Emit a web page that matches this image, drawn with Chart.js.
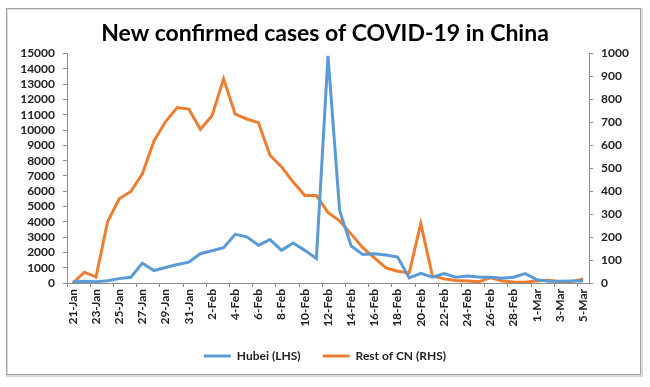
<!DOCTYPE html>
<html>
<head>
<meta charset="utf-8">
<script src="https://cdn.jsdelivr.net/npm/chart.js@4"></script>
<style>
  html, body { margin: 0; padding: 0; background: #fff; }
  #wrap { width: 650px; height: 387px; position: relative; }
</style>
</head>
<body>
<div id="wrap"><canvas id="chart" width="650" height="387"></canvas></div>
<script>
// daily dates, 21 Jan - 5 Mar 2020
const dates = [
    '21-Jan', '22-Jan', '23-Jan', '24-Jan', '25-Jan', '26-Jan', '27-Jan', '28-Jan', '29-Jan', '30-Jan', '31-Jan',
    '1-Feb', '2-Feb', '3-Feb', '4-Feb', '5-Feb', '6-Feb', '7-Feb', '8-Feb', '9-Feb', '10-Feb',
    '11-Feb', '12-Feb', '13-Feb', '14-Feb', '15-Feb', '16-Feb', '17-Feb', '18-Feb', '19-Feb', '20-Feb',
    '21-Feb', '22-Feb', '23-Feb', '24-Feb', '25-Feb', '26-Feb', '27-Feb', '28-Feb', '29-Feb',
    '1-Mar', '2-Mar', '3-Mar', '4-Mar', '5-Mar'
];

// Hubei, left axis
const hubei = [66, 110, 88, 154, 286, 374, 1300, 814, 1012, 1210, 1364,
    1914, 2112, 2310, 3180, 3014, 2464, 2838, 2134, 2618, 2134,
    1606, 14850, 4750, 2420, 1870, 1914, 1826, 1694, 330, 638,
    374, 616, 374, 462, 396, 374, 308, 374, 616,
    220, 120, 120, 130, 125];

// rest of China, right axis
const restOfCN = [0, 47, 26, 267, 367, 399, 476, 619, 704, 765, 758,
    670, 729, 890, 736, 715, 699, 557, 506, 440, 381,
    381, 308, 271, 213, 154, 110, 66, 51, 44, 259,
    31, 18, 11, 9, 5, 24, 9, 4, 3,
    10, 12, 5, 6, 18];

const tickFont = { family: 'Lato', size: 12, weight: 'bold' };
const axisGray = '#8c8c8c';
const plainNumber = v => String(v);

// grey frame round the whole chart
const framePlugin = {
    id: 'frame',
    beforeDraw(chart) {
        const ctx = chart.ctx;
        ctx.save();
        ctx.fillStyle = '#fff';
        ctx.fillRect(0, 0, chart.width, chart.height);
        ctx.strokeStyle = '#d9d9d9';
        ctx.lineWidth = 2;
        ctx.strokeRect(7, 9, 635, 367);
        ctx.strokeStyle = '#a6a6a6';
        ctx.lineWidth = 1;
        ctx.strokeRect(6.5, 8.5, 634, 366);
        ctx.restore();
    }
};

new Chart(document.getElementById('chart'), {
    type: 'line',
    data: {
        labels: dates,
        datasets: [{
            label: 'Hubei (LHS)',
            data: hubei,
            yAxisID: 'yLeft',
            borderColor: '#5b9bd5',
            backgroundColor: '#5b9bd5',
            borderWidth: 3,
            pointRadius: 0,
            tension: 0
        }, {
            label: 'Rest of CN (RHS)',
            data: restOfCN,
            yAxisID: 'yRight',
            borderColor: '#ed7d31',
            backgroundColor: '#ed7d31',
            borderWidth: 3,
            pointRadius: 0,
            tension: 0
        }]
    },
    options: {
        responsive: false,
        animation: false,
        layout: { padding: { top: 10, bottom: 15, left: 0, right: 0 } },
        plugins: {
            title: {
                display: true,
                text: 'New confirmed cases of COVID-19 in China',
                color: '#000',
                font: { family: 'Lato', size: 23, weight: 'bold' },
                padding: { top: 10, bottom: 6 }
            },
            legend: {
                position: 'bottom',
                labels: {
                    color: '#222',
                    font: { family: 'Lato', size: 12, weight: 'bold' },
                    usePointStyle: true,
                    pointStyle: 'line',
                    pointStyleWidth: 27,
                    padding: 22
                }
            },
            tooltip: { enabled: false }
        },
        scales: {
            x: {
                offset: true,
                grid: {
                    offset: true,
                    drawOnChartArea: false,
                    tickLength: 4,
                    color: ctx => (ctx.index % 2 === 0 ? axisGray : 'rgba(0,0,0,0)')
                },
                border: { color: axisGray },
                ticks: {
                    autoSkip: false,
                    minRotation: 90,
                    maxRotation: 90,
                    padding: 2,
                    color: '#222',
                    font: tickFont,
                    callback: function (value, index) {
                        return index % 2 === 0 ? this.getLabelForValue(value) : '';
                    }
                },
                afterFit: scale => { scale.height = 45; }
            },
            yLeft: {
                position: 'left',
                min: 0,
                max: 15000,
                grid: { drawOnChartArea: false, tickLength: 4, color: axisGray },
                border: { color: axisGray },
                ticks: { stepSize: 1000, autoSkip: false, padding: 8, color: '#222', font: tickFont, callback: plainNumber },
                afterFit: scale => { scale.width = 67; }
            },
            yRight: {
                position: 'right',
                min: 0,
                max: 1000,
                grid: { drawOnChartArea: false, tickLength: 4, color: axisGray },
                border: { color: axisGray },
                ticks: { stepSize: 100, autoSkip: false, padding: 8, color: '#222', font: tickFont, callback: plainNumber },
                afterFit: scale => { scale.width = 61; }
            }
        }
    },
    plugins: [framePlugin]
});
</script>
</body>
</html>
